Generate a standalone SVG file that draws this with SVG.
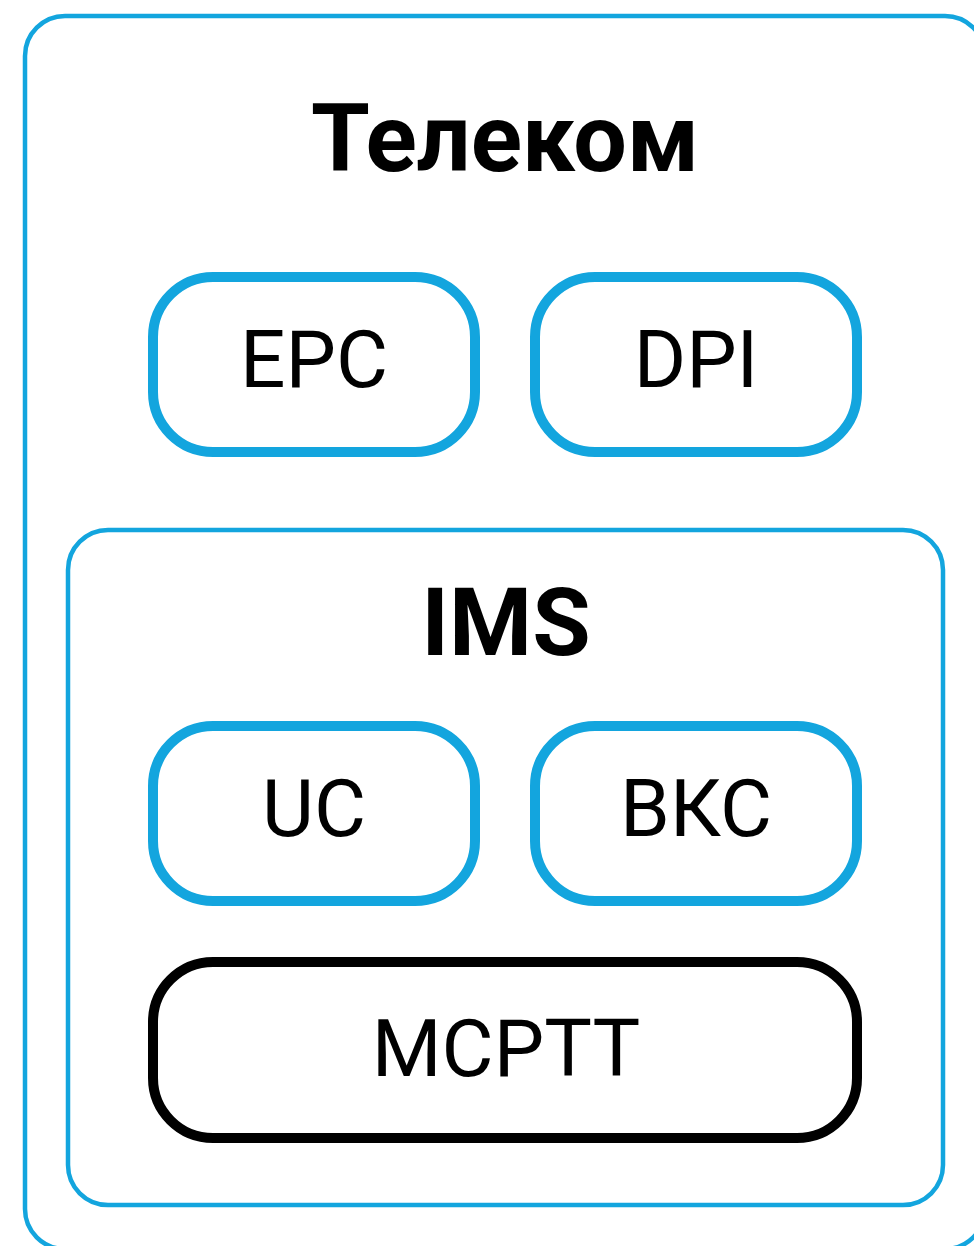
<svg xmlns="http://www.w3.org/2000/svg" width="974" height="1246" viewBox="0 0 974 1246">
<style>
.frame{fill:none;stroke:#13a5de;stroke-width:4.5}
.node{fill:#fff;stroke:#13a5de;stroke-width:10}
.dark{fill:#fff;stroke:#000;stroke-width:10}
.title{font-family:Roboto,"Liberation Sans",sans-serif;font-weight:bold;font-size:95px;text-anchor:middle;fill:#000}
.lbl{font-family:Roboto,"Liberation Sans",sans-serif;font-size:80px;text-anchor:middle;fill:#000}
</style>
<rect width="974" height="1246" fill="#fff"/>
<g id="telecom">
<rect class="frame" x="25" y="16" width="960" height="1233" rx="40"/>
<text class="title" x="505" y="171">Телеком</text>
</g>
<g id="epc">
<rect class="node" x="153" y="277" width="322" height="175" rx="60"/>
<text class="lbl" x="314" y="387">EPC</text>
</g>
<g id="dpi">
<rect class="node" x="535" y="277" width="322" height="175" rx="60"/>
<text class="lbl" x="696" y="387">DPI</text>
</g>
<g id="ims">
<rect class="frame" x="68" y="530" width="875" height="675" rx="40"/>
<text class="title" x="506" y="655">IMS</text>
</g>
<g id="uc">
<rect class="node" x="153" y="726" width="322" height="175" rx="60"/>
<text class="lbl" x="314" y="836">UC</text>
</g>
<g id="bks">
<rect class="node" x="535" y="726" width="322" height="175" rx="60"/>
<text class="lbl" x="696" y="836">ВКС</text>
</g>
<g id="mcptt">
<rect class="dark" x="153" y="962" width="704" height="176" rx="60"/>
<text class="lbl" x="506" y="1076">MCPTT</text>
</g>
<g id="connectors"></g>
</svg>
